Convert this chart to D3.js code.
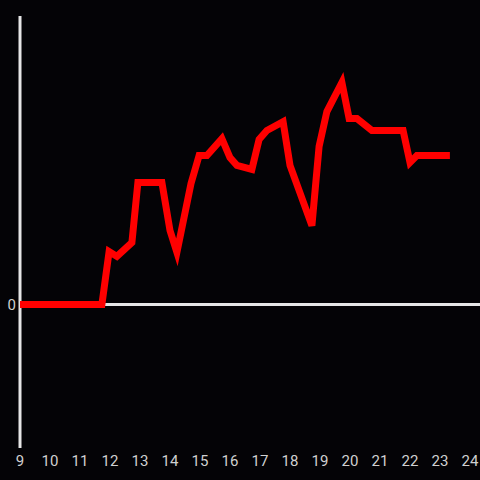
<!DOCTYPE html>
<html>
<head>
<meta charset="utf-8">
<script src="https://cdn.jsdelivr.net/npm/d3@7"></script>
<style>
html,body{margin:0;padding:0;background:#040306;}
svg{display:block;}
</style>
</head>
<body>
<svg id="chart" width="480" height="480"></svg>
<script>
const hours = [9, 11.73, 11.97, 12.23, 12.73, 12.93, 13.73, 14.0, 14.23, 14.7, 14.97, 15.23, 15.73, 16.0, 16.23, 16.73, 16.97, 17.23, 17.77, 18.0, 18.73, 18.97, 19.23, 19.73, 19.97, 20.23, 20.73, 21.77, 22.0, 22.23, 23.33];
const values = [0, 0, 18.4, 16.7, 21.5, 42.4, 42.4, 25.7, 18.1, 42, 51.7, 51.7, 57.6, 51, 48.3, 46.9, 57.3, 60.4, 63.5, 48.3, 27.4, 54.9, 67, 77.1, 64.6, 64.6, 60.4, 60.4, 49.3, 51.7, 51.7];
const xTicks = [9,10,11,12,13,14,15,16,17,18,19,20,21,22,23,24];
const yTicks = [0];

const svg = d3.select("#chart");
svg.append("rect").attr("width",480).attr("height",480).attr("fill","#040306");

const x = d3.scaleLinear().domain([9,24]).range([20,470]);
const y = d3.scaleLinear().domain([-50,100]).range([448.5,16.5]);

svg.append("line")
  .attr("x1", x(9)).attr("x2", 480)
  .attr("y1", y(0)).attr("y2", y(0))
  .attr("stroke","#e6e6e6").attr("stroke-width",3);

svg.append("line")
  .attr("x1", x(9)).attr("x2", x(9))
  .attr("y1", 16).attr("y2", 448)
  .attr("stroke","#e6e6e6").attr("stroke-width",3);

svg.append("g").selectAll("text").data(xTicks).join("text")
  .attr("x", d => x(d)).attr("y", 466)
  .attr("text-anchor","middle")
  .attr("fill","#d0d0d0")
  .attr("font-family","Roboto, 'Liberation Sans', sans-serif")
  .attr("font-size",15)
  .text(d => d);

svg.append("g").selectAll("text").data(yTicks).join("text")
  .attr("x", 16).attr("y", d => y(d))
  .attr("dy","0.35em")
  .attr("text-anchor","end")
  .attr("fill","#d0d0d0")
  .attr("font-family","Roboto, 'Liberation Sans', sans-serif")
  .attr("font-size",15)
  .text(d => d);

const data = hours.map((h,i) => [h, values[i]]);
const line = d3.line().x(d => x(d[0])).y(d => y(d[1]));
svg.append("path")
  .attr("d", line(data))
  .attr("fill","none")
  .attr("stroke","#ff0000")
  .attr("stroke-width",7)
  .attr("stroke-linejoin","miter");
</script>
</body>
</html>
